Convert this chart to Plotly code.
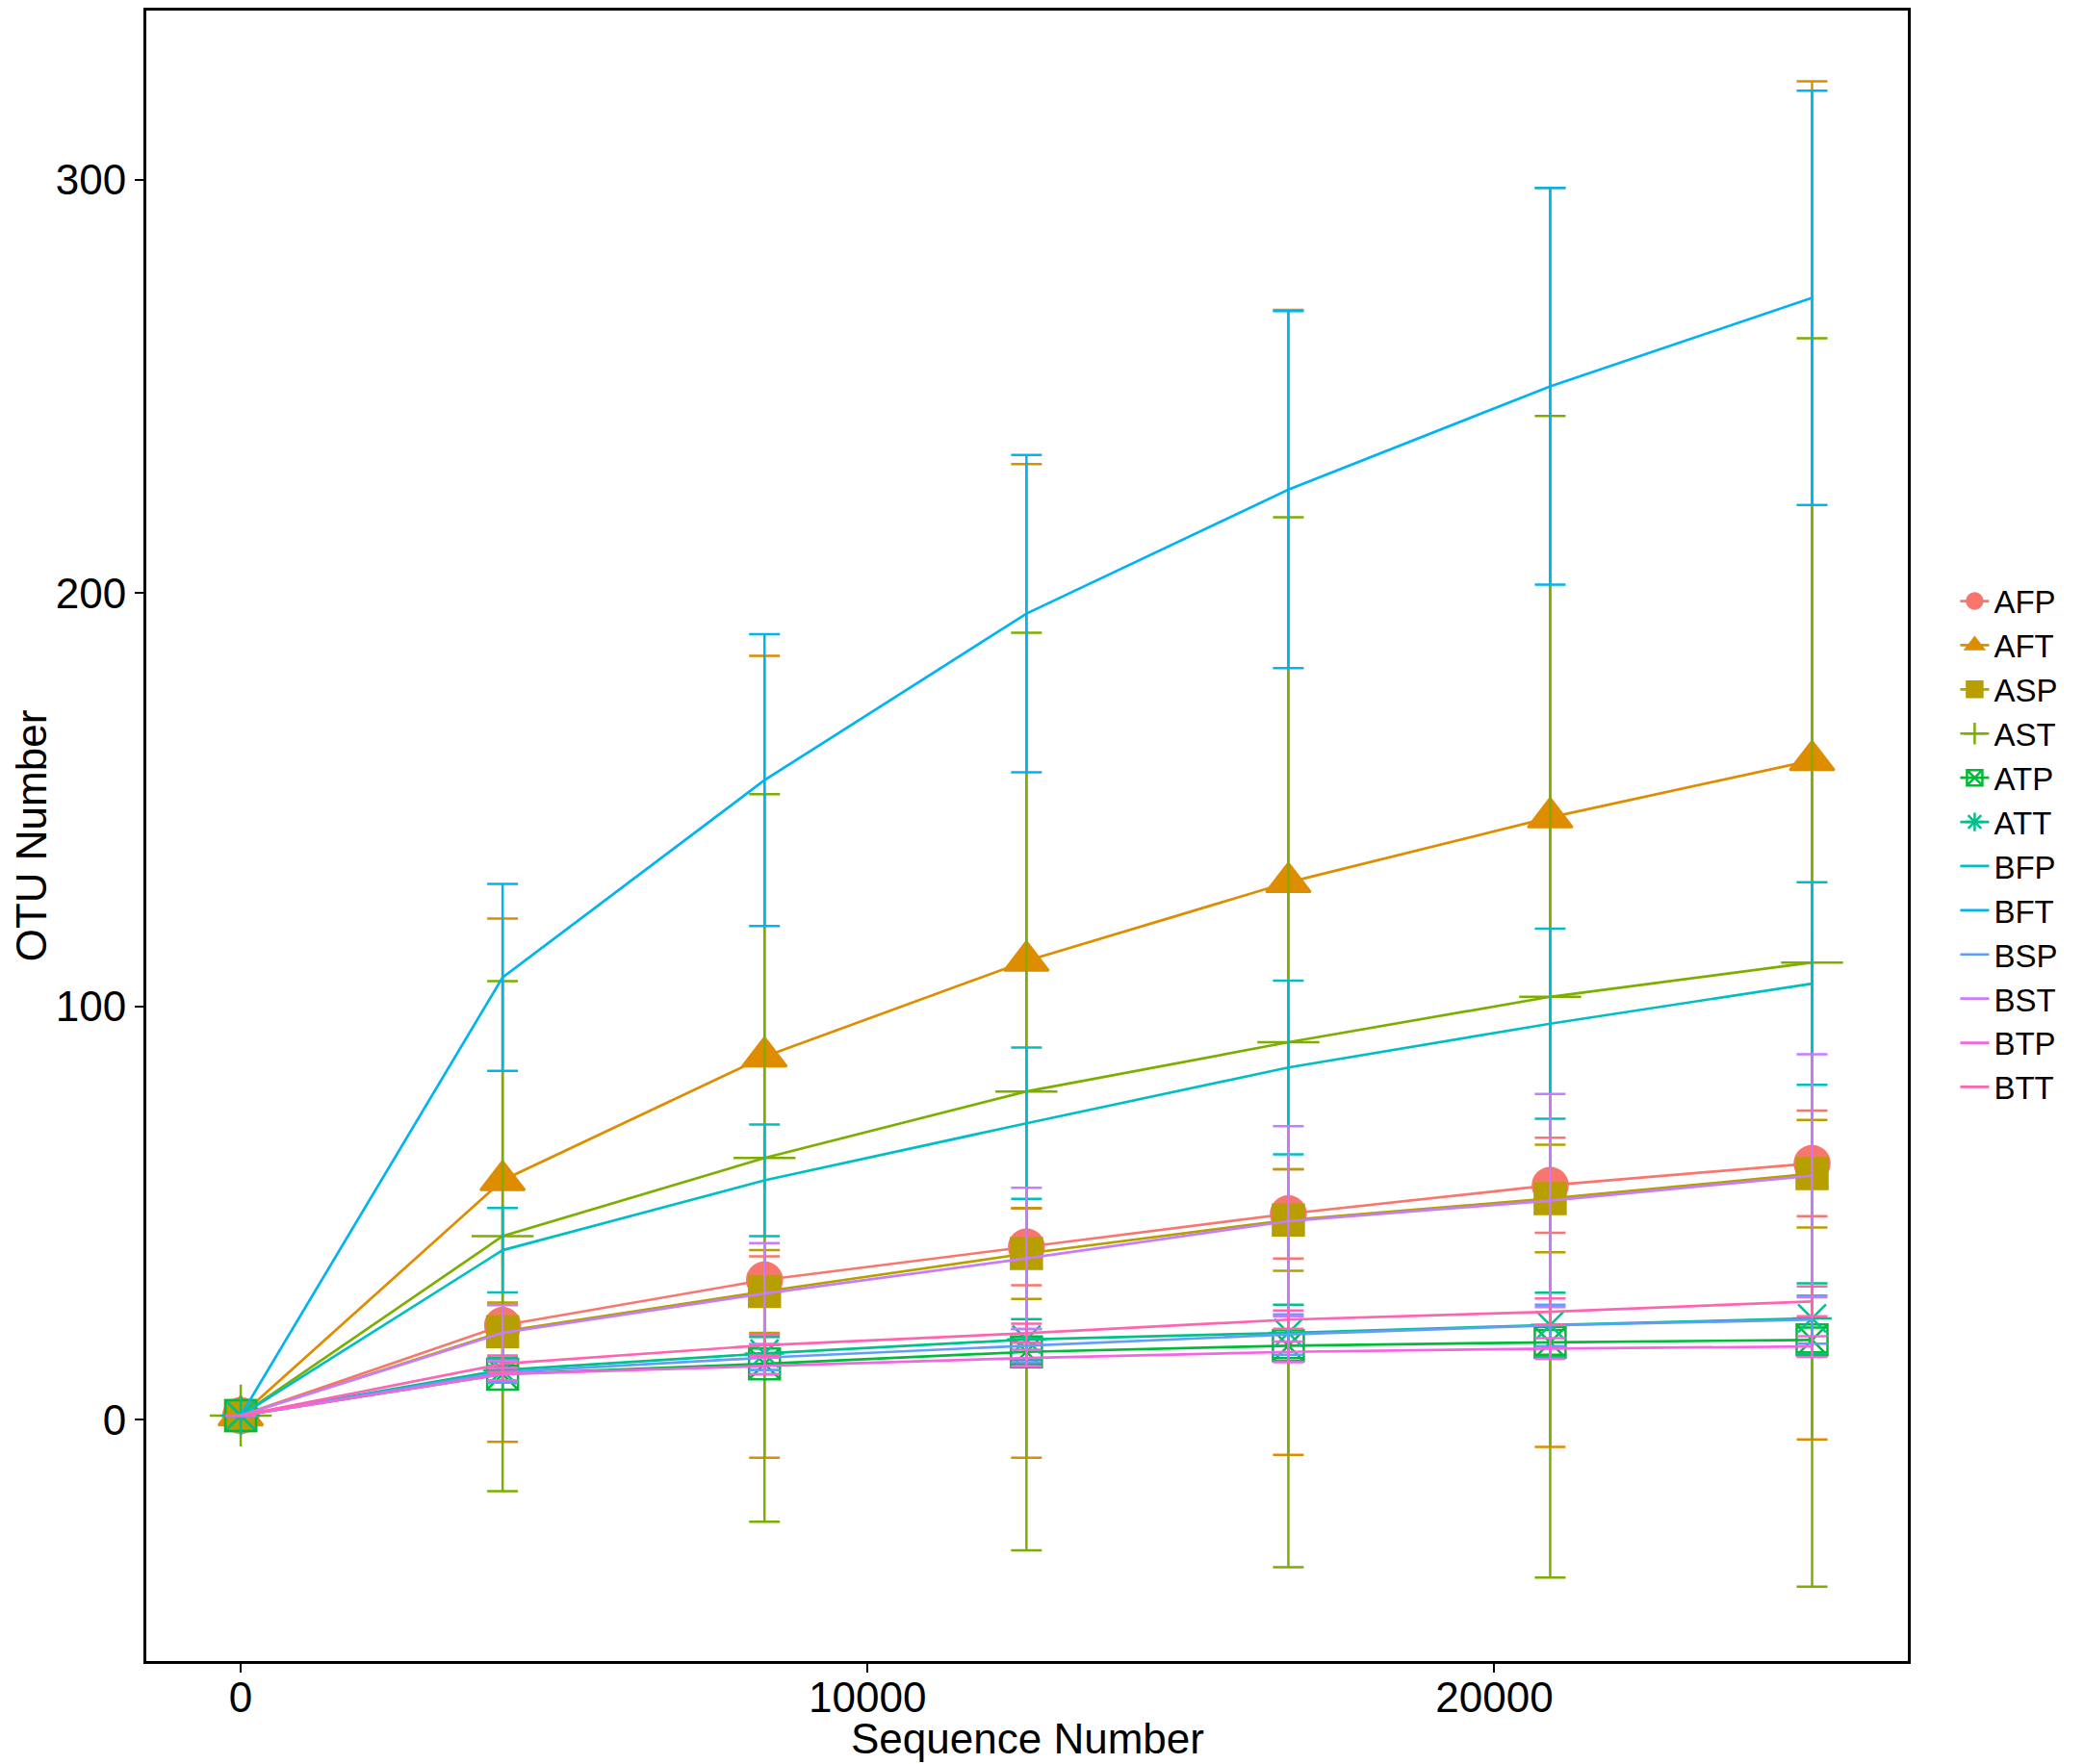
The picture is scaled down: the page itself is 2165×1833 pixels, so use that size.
import plotly.graph_objects as go

# sequencing depth (x) shared by every group
seq_depth = [0, 4178, 8356, 12535, 16713, 20890, 25068]

groups = ['AFP', 'AFT', 'ASP', 'AST', 'ATP', 'ATT',
          'BFP', 'BFT', 'BSP', 'BST', 'BTP', 'BTT']

# mean OTU number per group
AFP = [1, 22.8, 33.8, 41.8, 49.8, 56.7, 62.0]
AFT = [1, 57.9, 87.8, 111.0, 130.0, 145.7, 159.5]
ASP = [1, 21.3, 31.0, 40.2, 48.3, 53.5, 59.5]
AST = [1, 44.4, 63.3, 79.4, 91.3, 102.3, 110.6]
ATP = [1, 11.0, 13.5, 16.4, 17.9, 18.7, 19.3]
ATT = [1, 12.0, 16.0, 19.4, 21.0, 22.9, 24.5]
BFP = [1, 41.0, 57.9, 71.7, 85.2, 95.8, 105.5]
BFT = [1, 107.0, 154.7, 195.0, 225.0, 250.0, 271.4]
BSP = [1, 11.5, 15.0, 17.9, 20.6, 22.8, 24.2]
BST = [1, 21.0, 30.5, 39.0, 48.0, 53.0, 59.0]
BTP = [1, 11.0, 13.0, 14.9, 16.4, 17.2, 17.7]
BTT = [1, 13.5, 18.0, 20.9, 24.2, 26.1, 28.6]

# standard deviation per group
AFP_sd = [0, 5.0, 5.7, 9.3, 10.8, 11.5, 12.8]
AFT_sd = [0, 63.3, 97.0, 120.2, 138.5, 152.3, 164.3]
ASP_sd = [0, 7.0, 10.0, 11.0, 12.3, 13.0, 13.0]
AST_sd = [0, 61.7, 88.0, 111.0, 127.0, 140.5, 151.0]
ATP_sd = [0, 2.0, 2.5, 3.0, 3.0, 3.0, 3.0]
ATT_sd = [0, 3.0, 4.0, 4.9, 6.8, 7.8, 8.5]
BFP_sd = [0, 10.2, 13.5, 18.3, 21.0, 23.0, 24.5]
BFT_sd = [0, 22.6, 35.3, 38.4, 43.2, 48.0, 50.1]
BSP_sd = [0, 2.5, 3.0, 4.0, 4.9, 5.0, 5.8]
BST_sd = [0, 6.7, 12.2, 17.1, 23.0, 25.8, 29.4]
BTP_sd = [0, 1.5, 2.0, 2.0, 2.5, 2.5, 2.5]
BTT_sd = [0, 2.0, 2.5, 2.3, 2.2, 3.2, 3.6]

means = [AFP, AFT, ASP, AST, ATP, ATT, BFP, BFT, BSP, BST, BTP, BTT]
sds = [AFP_sd, AFT_sd, ASP_sd, AST_sd, ATP_sd, ATT_sd,
       BFP_sd, BFT_sd, BSP_sd, BST_sd, BTP_sd, BTT_sd]

colors = ['#F8766D', '#DE8C00', '#B79F00', '#7CAE00', '#00BA38', '#00C08B',
          '#00BFC4', '#00B4F0', '#619CFF', '#C77CFF', '#F564E3', '#FF64B0']
symbols = ['circle', 'triangle-up', 'square', 'cross-thin-open',
           'square-x-open', 'asterisk-open', None, None, None, None, None, None]
sizes = [36, 40, 32, 46, 32, 34, 0, 0, 0, 0, 0, 0]

fig = go.Figure()

for i in range(len(groups)):
    if symbols[i] is None:
        mode = 'lines'
        marker = dict(color=colors[i])
    else:
        mode = 'lines+markers'
        marker = dict(symbol=symbols[i], size=sizes[i], color=colors[i],
                      line=dict(color=colors[i], width=2.5))
    fig.add_trace(go.Scatter(
        x=seq_depth, y=means[i], name=groups[i], mode=mode,
        line=dict(color=colors[i], width=2.7),
        marker=marker,
        error_y=dict(type='data', array=sds[i], visible=True,
                     color=colors[i], thickness=2.5, width=16),
    ))

fig.update_layout(
    width=2165,
    height=1833,
    margin=dict(l=144, r=191, t=3, b=115),
    plot_bgcolor='white',
    paper_bgcolor='white',
    font=dict(family='Liberation Sans, Arial', color='black'),
    xaxis=dict(
        range=[-1506, 26596],
        tickvals=[0, 10000, 20000],
        ticktext=['0', '10000', '20000'],
        showgrid=False, zeroline=False,
        showline=True, mirror=True, linecolor='black', linewidth=3,
        ticks='outside', ticklen=9, tickwidth=2, tickcolor='black',
        tickfont=dict(size=44),
        ticklabelstandoff=-12,
        automargin=False,
    ),
    yaxis=dict(
        range=[-58.4, 340.9],
        tickvals=[0, 100, 200, 300],
        showgrid=False, zeroline=False,
        showline=True, mirror=True, linecolor='black', linewidth=3,
        ticks='outside', ticklen=9, tickwidth=2, tickcolor='black',
        tickfont=dict(size=44),
        title=dict(text='OTU Number', font=dict(size=44), standoff=16),
        automargin=False,
    ),
    legend=dict(
        x=1.027, xanchor='left', y=0.495, yanchor='middle',
        font=dict(size=33),
        bgcolor='rgba(0,0,0,0)',
        tracegroupgap=0,
        itemwidth=30,
    ),
    annotations=[dict(
        text='Sequence Number', xref='paper', yref='paper',
        x=0.5, y=-0.047, xanchor='center', yanchor='middle',
        showarrow=False, font=dict(size=44),
    )],
    showlegend=True,
)

fig.write_html("out.html")
